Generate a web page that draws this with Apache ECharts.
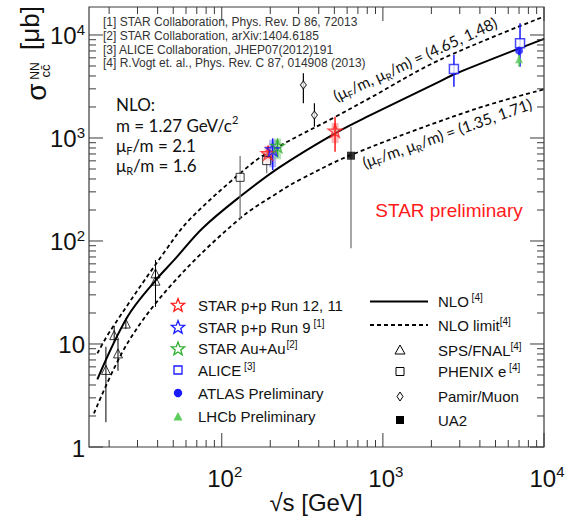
<!DOCTYPE html>
<html>
<head>
<meta charset="utf-8">
<script src="https://cdn.jsdelivr.net/npm/echarts@6/dist/echarts.min.js"></script>
<style>
html,body{margin:0;padding:0;background:#ffffff;}
#chart{width:575px;height:516px;}
</style>
</head>
<body>
<div id="chart"></div>
<script>
// ---------------- axis ranges & ticks ----------------
const X_MIN = 15, X_MAX = 10000;
const Y_MIN = 1, Y_MAX = 18700;
const xMajorTicks = [100, 1000, 10000];
const xMinorTicks = [20,30,40,50,60,70,80,90,200,300,400,500,600,700,800,900,2000,3000,4000,5000,6000,7000,8000,9000];
const xTickLabels = ['10{sup|2}', '10{sup|3}', '10{sup|4}'];
const yMajorTicks = [1, 10, 100, 1000, 10000];
const yMinorTicks = [2,3,4,5,6,7,8,9,20,30,40,50,60,70,80,90,200,300,400,500,600,700,800,900,2000,3000,4000,5000,6000,7000,8000,9000];
const yTickLabels = ['1', '10', '10{sup|2}', '10{sup|3}', '10{sup|4}'];

// ---------------- NLO curves ----------------
const nloX = [16.9, 26, 39, 50.7, 76, 130, 228, 505, 824, 2244, 2818, 10000];
const nloY = [4.54, 18.4, 41.8, 65.5, 133, 270, 519, 1111, 1648, 3526, 4206, 9180];
const upperX = [16.9, 20.5, 45, 62.8, 130, 190, 505, 824, 2244, 10000];
const upperY = [8.1, 13.7, 81.8, 160, 454, 710, 1600, 2427, 5715, 15100];
const lowerX = [16.1, 26, 50.7, 130, 228, 303, 634, 3600, 10000];
const lowerY = [2.12, 10.2, 40.3, 166, 301, 391, 684, 1873, 2970];

// ---------------- data points ----------------
const spsX  = [19.1, 21.5, 22.7, 25.4, 38.8, 38.8];
const spsY  = [5.6, 12.2, 8.1, 15.8, 48.5, 41.2];
const spsLo = [1.74, 10.5, 5.5, 14, 23, 23];
const spsHi = [9.4, 15, 11, 17.8, 65, 65];

const phenixX  = [130, 190];
const phenixY  = [415, 603];
const phenixLo = [163, 454];
const phenixHi = [668, 710];

const pamirX  = [321, 376];
const pamirY  = [3275, 1670];
const pamirLo = [2175, 1288];
const pamirHi = [4250, 2175];

const ua2X  = [634];
const ua2Y  = [673];
const ua2Lo = [85];
const ua2Hi = [1280];

const star1211X = [194, 505];
const star1211Y = [710, 1178];
const star1211StatLo = [600, 736];
const star1211StatHi = [840, 1611];
const star1211SysLo = [570, 893];
const star1211SysHi = [837, 1400];

const star9X = [207];
const star9Y = [776];
const star9StatLo = [489];
const star9StatHi = [993];
const star9SysLo = [520];
const star9SysHi = [960];

const starAuX = [222];
const starAuY = [836];
const starAuStatLo = [650];
const starAuStatHi = [960];
const starAuSysLo = [621];
const starAuSysHi = [987];

const aliceX  = [2760, 7100];
const aliceY  = [4680, 8300];
const aliceLo = [3150, 4920];
const aliceHi = [6400, 13000];

const atlasX  = [7000];
const atlasY  = [7050];
const atlasLo = [6300];
const atlasHi = [7800];

const lhcbX  = [7000];
const lhcbY  = [5810];
const lhcbLo = [4920];
const lhcbHi = [6400];

const refLines = [
  '[1] STAR Collaboration, Phys. Rev. D 86, 72013',
  '[2] STAR Collaboration, arXiv:1404.6185',
  '[3] ALICE Collaboration, JHEP07(2012)191',
  '[4] R.Vogt et. al., Phys. Rev. C 87, 014908 (2013)'
];

// ---------------- styles ----------------
const AX = '#3a3a3a';
const INK = '#111111';
const FONT = '"Liberation Sans", Arial, Helvetica, sans-serif';
const FONT2 = 'Lato, "Open Sans", "Liberation Sans", sans-serif';
const RED = '#ff1a1a', BLUE = '#1a1aff', GREEN = '#2faf2f', LGREEN = '#5ccc5c';
const STAR_PATH = 'M50 0L61.2 34.5L97.6 34.5L68.2 55.9L79.4 90.5L50 69.1L20.6 90.5L31.8 55.9L2.4 34.5L38.8 34.5Z';
const MAJOR_LEN = 14, MINOR_LEN = 7;

function pts(xs, ys) { return xs.map((x, i) => [x, ys[i]]); }
function errPts(xs, ys, lo, hi) { return xs.map((x, i) => [x, ys[i], lo[i], hi[i]]); }
function starPts(xs, ys, slo, shi, ylo, yhi) { return xs.map((x, i) => [x, ys[i], slo[i], shi[i], ylo[i], yhi[i]]); }

function starPolygon(cx, cy, r) {
  const p = [];
  for (let k = 0; k < 10; k++) {
    const a = -Math.PI / 2 + k * Math.PI / 5;
    const rr = (k % 2 === 0) ? r : r * 0.42;
    p.push([cx + rr * Math.cos(a), cy + rr * Math.sin(a)]);
  }
  return p;
}

function errBar(color, width) {
  return function (params, api) {
    const x = api.value(0);
    const a = api.coord([x, api.value(2)]);
    const b = api.coord([x, api.value(3)]);
    return {type: 'line', shape: {x1: a[0], y1: a[1], x2: b[0], y2: b[1]}, style: {stroke: color, lineWidth: width}};
  };
}
function starErr(color, boxColor) {
  return function (params, api) {
    const x = api.value(0);
    const a = api.coord([x, api.value(2)]), b = api.coord([x, api.value(3)]);
    const c = api.coord([x, api.value(4)]), d = api.coord([x, api.value(5)]);
    return {type: 'group', children: [
      {type: 'rect', shape: {x: c[0] - 3.5, y: d[1], width: 7, height: c[1] - d[1]}, style: {fill: boxColor}},
      {type: 'line', shape: {x1: a[0], y1: a[1], x2: b[0], y2: b[1]}, style: {stroke: color, lineWidth: 1.5}}
    ]};
  };
}

const tickRich = {sup: {fontSize: 15, fontFamily: FONT, fill: INK, verticalAlign: 'top', lineHeight: 15}};

function frameRender(params, api) {
  const cs = params.coordSys;
  const L = cs.x, T = cs.y, R = cs.x + cs.width, B = cs.y + cs.height;
  const kids = [];
  const tick = (x1, y1, x2, y2) => kids.push({type: 'line', shape: {x1, y1, x2, y2}, style: {stroke: AX, lineWidth: 1}});
  xMajorTicks.forEach((v, i) => {
    const px = api.coord([v, Y_MIN])[0];
    tick(px, B, px, B - MAJOR_LEN); tick(px, T, px, T + MAJOR_LEN);
    kids.push({type: 'text', x: px + 3, y: B + 31, style: {text: xTickLabels[i], fill: INK, fontSize: 24, fontFamily: FONT, lineHeight: 28, align: 'center', verticalAlign: 'middle', rich: tickRich}});
  });
  xMinorTicks.forEach(v => {
    const px = api.coord([v, Y_MIN])[0];
    tick(px, B, px, B - MINOR_LEN); tick(px, T, px, T + MINOR_LEN);
  });
  yMajorTicks.forEach((v, i) => {
    const py = api.coord([X_MIN, v])[1];
    tick(L, py, L + MAJOR_LEN, py); tick(R, py, R - MAJOR_LEN, py);
    kids.push({type: 'text', x: L - 4, y: py + 1, style: {text: yTickLabels[i], fill: INK, fontSize: 24, fontFamily: FONT, lineHeight: 28, align: 'right', verticalAlign: 'middle', rich: tickRich}});
  });
  yMinorTicks.forEach(v => {
    const py = api.coord([X_MIN, v])[1];
    tick(L, py, L + MINOR_LEN, py); tick(R, py, R - MINOR_LEN, py);
  });
  return {type: 'group', children: kids};
}

// ---------------- graphic (texts & legend) ----------------
function T(x, y, text, style, extra) {
  return Object.assign({type: 'text', x: x, y: y, silent: true,
    style: Object.assign({text: text, fill: INK, fontFamily: FONT, fontSize: 15, align: 'left', verticalAlign: 'middle'}, style || {})}, extra || {});
}
const supRich = {sup: {fontSize: 10, fontFamily: FONT, fill: INK, verticalAlign: 'top', lineHeight: 10}};
const subRich2 = {sub: {fontSize: 11, fontFamily: FONT2, fill: INK, verticalAlign: 'bottom', lineHeight: 11},
                  sup: {fontSize: 11, fontFamily: FONT2, fill: INK, verticalAlign: 'top', lineHeight: 11}};

const graphics = [];
refLines.forEach((s, i) => graphics.push(T(103, 21.7 + i * 13.9, s, {fontSize: 12, fill: '#333'})));

graphics.push(T(116, 104, 'NLO:', {fontFamily: FONT2, fontSize: 17}));
graphics.push(T(116, 125, 'm = 1.27 GeV/c{sup|2}', {fontFamily: FONT2, fontSize: 17, lineHeight: 22, rich: subRich2}));
graphics.push(T(116, 145, 'μ{sub|F}/m = 2.1', {fontFamily: FONT2, fontSize: 17, lineHeight: 22, rich: subRich2}));
graphics.push(T(116, 165, 'μ{sub|R}/m = 1.6', {fontFamily: FONT2, fontSize: 17, lineHeight: 22, rich: subRich2}));

const curveRich = {sub: {fontSize: 10, fontFamily: FONT2, fill: INK, verticalAlign: 'bottom', lineHeight: 10}};
graphics.push(T(415, 59, '(μ{sub|F}/m, μ{sub|R}/m) = (4.65, 1.48)', {fontFamily: FONT2, fontSize: 15.5, lineHeight: 20, align: 'center', rich: curveRich}, {rotation: 24.8 * Math.PI / 180}));
graphics.push(T(447, 133, '(μ{sub|F}/m, μ{sub|R}/m) = (1.35, 1.71)', {fontFamily: FONT2, fontSize: 15.5, lineHeight: 20, align: 'center', rich: curveRich}, {rotation: 19.5 * Math.PI / 180}));

graphics.push(T(449, 210, 'STAR preliminary', {fontSize: 19, fill: RED, align: 'center'}));

// axis titles
graphics.push(T(316, 502, '√s [GeV]', {fontSize: 24, align: 'center'}));
const rot = Math.PI / 2;
graphics.push(T(36, 92, 'σ', {fontSize: 28, align: 'center'}, {rotation: rot}));
graphics.push(T(34.5, 71, 'NN', {fontSize: 12, align: 'center'}, {rotation: rot}));
graphics.push(T(45, 71, 'cc\u0304', {fontSize: 13, align: 'center'}, {rotation: rot}));
graphics.push(T(30, 28, '[μb]', {fontSize: 26, align: 'center'}, {rotation: rot}));

// legend: left column
const legL = ['STAR p+p Run 12, 11', 'STAR p+p Run 9{sup| [1]}', 'STAR Au+Au{sup|[2]}', 'ALICE{sup| [3]}', 'ATLAS Preliminary', 'LHCb Preliminary'];
const legLY = [305, 327, 348.5, 370, 393, 416.5];
legL.forEach((s, i) => graphics.push(T(198, legLY[i], s, {fontSize: 15, lineHeight: 18, rich: supRich})));
[[RED, 0], [BLUE, 1], [GREEN, 2]].forEach(([c, i]) => graphics.push({type: 'polygon', silent: true,
  shape: {points: starPolygon(178, legLY[i] + 0.5, 7)},
  style: {fill: 'none', stroke: c, lineWidth: 1.3}}));
graphics.push({type: 'rect', silent: true, shape: {x: 174, y: legLY[3] - 4, width: 8, height: 8}, style: {fill: '#fff', stroke: BLUE, lineWidth: 1.3}});
graphics.push({type: 'circle', silent: true, shape: {cx: 178, cy: legLY[4], r: 4.2}, style: {fill: BLUE}});
graphics.push({type: 'polygon', silent: true, shape: {points: [[178, legLY[5] - 4.5], [182.5, legLY[5] + 4], [173.5, legLY[5] + 4]]}, style: {fill: LGREEN}});

// legend: right column
const legR = ['NLO{sup| [4]}', 'NLO limit{sup|[4]}', 'SPS/FNAL{sup|[4]}', 'PHENIX e{sup| [4]}', 'Pamir/Muon', 'UA2'];
const legRY = [301.5, 325, 350, 371.5, 396.5, 420];
legR.forEach((s, i) => graphics.push(T(438, legRY[i], s, {fontSize: 15, lineHeight: 18, rich: supRich})));
graphics.push({type: 'line', silent: true, shape: {x1: 370, y1: legRY[0], x2: 428, y2: legRY[0]}, style: {stroke: '#000', lineWidth: 2}});
graphics.push({type: 'line', silent: true, shape: {x1: 370, y1: legRY[1], x2: 428, y2: legRY[1]}, style: {stroke: '#000', lineWidth: 1.8, lineDash: [4, 3]}});
graphics.push({type: 'polygon', silent: true, shape: {points: [[400, legRY[2] - 5], [405, legRY[2] + 4], [395, legRY[2] + 4]]}, style: {fill: 'none', stroke: '#000', lineWidth: 1}});
graphics.push({type: 'rect', silent: true, shape: {x: 396, y: legRY[3] - 4, width: 8, height: 8}, style: {fill: 'none', stroke: '#000', lineWidth: 1}});
graphics.push({type: 'polygon', silent: true, shape: {points: [[400, legRY[4] - 4.5], [403, legRY[4]], [400, legRY[4] + 4.5], [397, legRY[4]]]}, style: {fill: 'none', stroke: '#000', lineWidth: 1}});
graphics.push({type: 'rect', silent: true, shape: {x: 396, y: legRY[5] - 4, width: 8, height: 8}, style: {fill: '#000'}});

// ---------------- chart ----------------
const chart = echarts.init(document.getElementById('chart'), null, {renderer: 'svg'});
const noEmph = {disabled: true};
const option = {
  animation: false,
  backgroundColor: '#ffffff',
  grid: {left: 89, right: 31, top: 7, bottom: 69, show: true, borderColor: AX, borderWidth: 1.2, backgroundColor: 'transparent'},
  xAxis: {type: 'log', logBase: 10, min: X_MIN, max: X_MAX, axisLine: {show: false}, axisTick: {show: false}, axisLabel: {show: false}, splitLine: {show: false}},
  yAxis: {type: 'log', logBase: 10, min: Y_MIN, max: Y_MAX, axisLine: {show: false}, axisTick: {show: false}, axisLabel: {show: false}, splitLine: {show: false}},
  graphic: {elements: graphics},
  series: [
    {type: 'line', name: 'NLO', data: pts(nloX, nloY), smooth: 0.35, symbol: 'none', lineStyle: {color: '#000', width: 2}, z: 2, silent: true},
    {type: 'line', name: 'NLO upper', data: pts(upperX, upperY), smooth: 0.35, symbol: 'none', lineStyle: {color: '#000', width: 1.8, type: [4, 3]}, z: 2, silent: true},
    {type: 'line', name: 'NLO lower', data: pts(lowerX, lowerY), smooth: 0.35, symbol: 'none', lineStyle: {color: '#000', width: 1.8, type: [4, 3]}, z: 2, silent: true},

    {type: 'custom', renderItem: errBar('#000', 1), data: errPts(spsX, spsY, spsLo, spsHi), encode: {x: 0, y: 1}, z: 3, silent: true},
    {type: 'custom', renderItem: errBar('#777', 1.3), data: errPts(phenixX, phenixY, phenixLo, phenixHi), encode: {x: 0, y: 1}, z: 3, silent: true},
    {type: 'custom', renderItem: errBar('#000', 1.2), data: errPts(pamirX, pamirY, pamirLo, pamirHi), encode: {x: 0, y: 1}, z: 3, silent: true},
    {type: 'custom', renderItem: errBar('#888', 1.5), data: errPts(ua2X, ua2Y, ua2Lo, ua2Hi), encode: {x: 0, y: 1}, z: 3, silent: true},
    {type: 'custom', renderItem: starErr(RED, 'rgba(255,110,110,0.5)'), data: starPts(star1211X, star1211Y, star1211StatLo, star1211StatHi, star1211SysLo, star1211SysHi), encode: {x: 0, y: 1}, z: 3, silent: true},
    {type: 'custom', renderItem: starErr(BLUE, 'rgba(110,110,255,0.5)'), data: starPts(star9X, star9Y, star9StatLo, star9StatHi, star9SysLo, star9SysHi), encode: {x: 0, y: 1}, z: 3, silent: true},
    {type: 'custom', renderItem: starErr(GREEN, 'rgba(110,200,110,0.5)'), data: starPts(starAuX, starAuY, starAuStatLo, starAuStatHi, starAuSysLo, starAuSysHi), encode: {x: 0, y: 1}, z: 3, silent: true},
    {type: 'custom', renderItem: errBar(BLUE, 1.5), data: errPts(aliceX, aliceY, aliceLo, aliceHi), encode: {x: 0, y: 1}, z: 3, silent: true},
    {type: 'custom', renderItem: errBar(BLUE, 1.5), data: errPts(atlasX, atlasY, atlasLo, atlasHi), encode: {x: 0, y: 1}, z: 3, silent: true},
    {type: 'custom', renderItem: errBar(LGREEN, 1.5), data: errPts(lhcbX, lhcbY, lhcbLo, lhcbHi), encode: {x: 0, y: 1}, z: 3, silent: true},

    {type: 'scatter', name: 'SPS/FNAL', data: pts(spsX, spsY), symbol: 'triangle', symbolSize: 9, itemStyle: {color: 'rgba(255,255,255,0)', borderColor: '#000', borderWidth: 1}, z: 4, silent: true, emphasis: noEmph},
    {type: 'scatter', name: 'PHENIX e', data: pts(phenixX, phenixY), symbol: 'rect', symbolSize: 8, itemStyle: {color: '#fff', borderColor: '#000', borderWidth: 1}, z: 4, silent: true, emphasis: noEmph},
    {type: 'scatter', name: 'Pamir/Muon', data: pts(pamirX, pamirY), symbol: 'diamond', symbolSize: [6, 8], itemStyle: {color: '#fff', borderColor: '#000', borderWidth: 1}, z: 4, silent: true, emphasis: noEmph},
    {type: 'scatter', name: 'UA2', data: pts(ua2X, ua2Y), symbol: 'rect', symbolSize: 8, itemStyle: {color: '#000'}, z: 4, silent: true, emphasis: noEmph},
    {type: 'scatter', name: 'STAR p+p Run 12, 11', data: pts(star1211X, star1211Y), symbol: 'path://' + STAR_PATH, symbolKeepAspect: true, symbolSize: 14, itemStyle: {color: 'rgba(0,0,0,0)', borderColor: RED, borderWidth: 1.3}, z: 4, silent: true, emphasis: noEmph},
    {type: 'scatter', name: 'STAR p+p Run 9', data: pts(star9X, star9Y), symbol: 'path://' + STAR_PATH, symbolKeepAspect: true, symbolSize: 14, itemStyle: {color: 'rgba(0,0,0,0)', borderColor: BLUE, borderWidth: 1.3}, z: 4, silent: true, emphasis: noEmph},
    {type: 'scatter', name: 'STAR Au+Au', data: pts(starAuX, starAuY), symbol: 'path://' + STAR_PATH, symbolKeepAspect: true, symbolSize: 14, itemStyle: {color: 'rgba(0,0,0,0)', borderColor: GREEN, borderWidth: 1.3}, z: 4, silent: true, emphasis: noEmph},
    {type: 'scatter', name: 'ALICE', data: pts(aliceX, aliceY), symbol: 'rect', symbolSize: 9, itemStyle: {color: '#fff', borderColor: BLUE, borderWidth: 1.5}, z: 4, silent: true, emphasis: noEmph},
    {type: 'scatter', name: 'LHCb Preliminary', data: pts(lhcbX, lhcbY), symbol: 'triangle', symbolSize: 8, itemStyle: {color: LGREEN}, z: 4, silent: true, emphasis: noEmph},
    {type: 'scatter', name: 'ATLAS Preliminary', data: pts(atlasX, atlasY), symbol: 'circle', symbolSize: 8, itemStyle: {color: BLUE}, z: 4, silent: true, emphasis: noEmph},

    {type: 'custom', renderItem: frameRender, data: [[X_MIN, Y_MIN]], encode: {x: 0, y: 1}, z: 6, silent: true, clip: false}
  ]
};
chart.setOption(option);
</script>
</body>
</html>
